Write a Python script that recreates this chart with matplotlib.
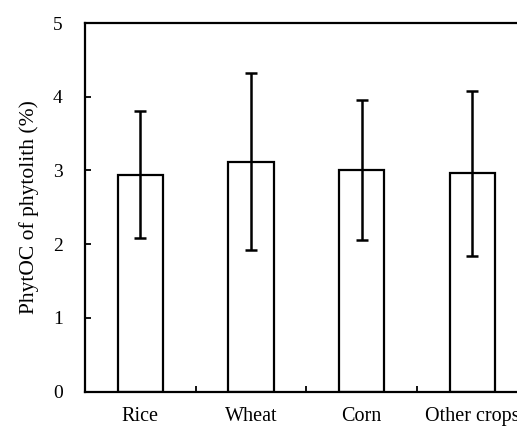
import matplotlib
matplotlib.use("Agg")
import matplotlib.pyplot as plt
import numpy as np

categories = ["Rice", "Wheat", "Corn", "Other crops"]
means = [2.94, 3.12, 3.01, 2.96]
errors = [0.86, 1.20, 0.95, 1.12]
y_ticks = [0, 1, 2, 3, 4, 5]
y_label = "PhytOC of phytolith (%)"

plt.rcParams['font.family'] = ['Liberation Serif', 'DejaVu Serif']

W, H = 517, 433
fig = plt.figure(figsize=(W / 100, H / 100), dpi=100)
left, right, top, bottom = 85, 527.5, 23, 391.7
ax = fig.add_axes([left / W, 1 - bottom / H, (right - left) / W, (bottom - top) / H])

x = np.arange(len(categories))
ax.bar(x, means, width=0.41, color='white', edgecolor='black', linewidth=1.6, zorder=2)
ax.errorbar(x, means, yerr=errors, fmt='none', ecolor='black', elinewidth=1.8,
            capsize=4, capthick=1.8, zorder=3)

ax.set_xlim(-0.5, len(categories) - 0.5)
ax.set_ylim(0, 5)
ax.set_yticks(y_ticks)
ax.set_yticklabels([str(t) for t in y_ticks], fontsize=14)
ax.set_xticks(x)
ax.set_xticklabels(categories, fontsize=14.5)
ax.set_xticks(np.arange(len(categories) + 1) - 0.5, minor=True)
ax.tick_params(axis='x', which='major', length=0, pad=11)
ax.tick_params(axis='x', which='minor', direction='in', length=4, width=1.3)
ax.tick_params(axis='y', which='major', direction='in', length=4, width=1.3, pad=16)
ax.set_ylabel(y_label, fontsize=15.5, labelpad=10)

for s in ['left', 'bottom', 'top']:
    ax.spines[s].set_linewidth(1.6)
ax.spines['right'].set_visible(False)

fig.savefig("out.png", dpi=100)
